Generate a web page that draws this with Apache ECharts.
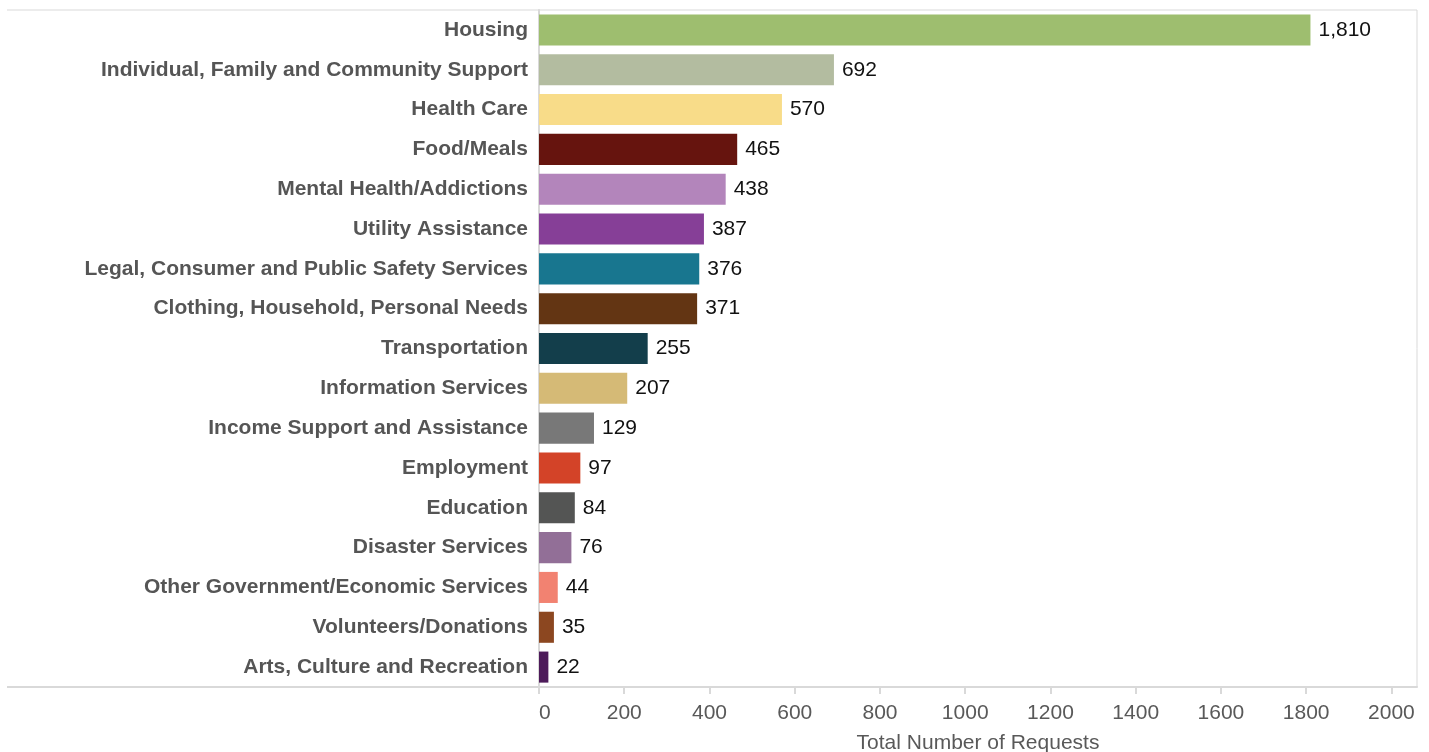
<!DOCTYPE html>
<html>
<head>
<meta charset="utf-8">
<script src="https://cdn.jsdelivr.net/npm/echarts@6/dist/echarts.min.js"></script>
<style>
  html, body { margin: 0; padding: 0; background: #ffffff; }
  #chart { width: 1429px; height: 752px; }
</style>
</head>
<body>
<div id="chart"></div>
<script>
// Request categories, top to bottom
const categories = [
  'Housing',
  'Individual, Family and Community Support',
  'Health Care',
  'Food/Meals',
  'Mental Health/Addictions',
  'Utility Assistance',
  'Legal, Consumer and Public Safety Services',
  'Clothing, Household, Personal Needs',
  'Transportation',
  'Information Services',
  'Income Support and Assistance',
  'Employment',
  'Education',
  'Disaster Services',
  'Other Government/Economic Services',
  'Volunteers/Donations',
  'Arts, Culture and Recreation'
];

// Total number of requests per category
const requests = [1810, 692, 570, 465, 438, 387, 376, 371, 255, 207, 129, 97, 84, 76, 44, 35, 22];

// One colour per category
const barColors = [
  '#9ebe6f', '#b3bca0', '#f8dc89', '#66140e', '#b385bb', '#863f97',
  '#18768f', '#633513', '#133e4b', '#d5ba76', '#787878', '#d34328',
  '#545554', '#926f97', '#f28271', '#8c4720', '#4d1b5a'
];

// Axis tick values
const xTicks = [0, 200, 400, 600, 800, 1000, 1200, 1400, 1600, 1800, 2000];

const chart = echarts.init(document.getElementById('chart'), null, { renderer: 'canvas' });

const font = 'Liberation Sans, Arial, sans-serif';
const gridLeft = 539, gridRight = 12, gridTop = 10, gridBottom = 65;
const lineColor = '#d9d9d9';

chart.setOption({
  animation: false,
  grid: {
    left: gridLeft, right: gridRight, top: gridTop, bottom: gridBottom,
    show: true, borderColor: lineColor, borderWidth: 1,
    containLabel: false, outerBoundsMode: 'none'
  },
  xAxis: {
    type: 'value',
    min: 0,
    max: 2060,
    name: 'Total Number of Requests',
    nameLocation: 'middle',
    nameGap: 46,
    nameTextStyle: { color: '#595959', fontSize: 21, fontFamily: font },
    axisLine: { show: true, lineStyle: { color: lineColor, width: 2 } },
    axisTick: { show: true, length: 7, customValues: xTicks, lineStyle: { color: lineColor, width: 2 } },
    axisLabel: {
      customValues: xTicks,
      color: '#595959', fontSize: 21, margin: 16,
      fontFamily: font,
      alignMinLabel: 'left',
      formatter: v => String(v)
    },
    splitLine: { show: false }
  },
  yAxis: {
    type: 'category',
    data: categories,
    inverse: true,
    axisLine: { show: true, lineStyle: { color: lineColor, width: 2 } },
    axisTick: { show: false },
    axisLabel: {
      color: '#555555', fontSize: 21, fontWeight: 'bold', margin: 11,
      fontFamily: font
    },
    splitLine: { show: false }
  },
  series: [{
    type: 'bar',
    data: requests.map((v, i) => ({ value: v, itemStyle: { color: barColors[i] } })),
    barCategoryGap: '22%',
    label: {
      show: true,
      position: 'right',
      distance: 8,
      color: '#111111',
      fontSize: 21,
      fontFamily: font,
      formatter: p => p.value.toLocaleString('en-US')
    }
  }],
  graphic: [
    // frame lines continuing under the category labels
    { type: 'rect', shape: { x: 7, y: gridTop - 0.5, width: gridLeft - 7, height: 1 }, style: { fill: lineColor } },
    { type: 'rect', shape: { x: 7, y: 752 - gridBottom - 1, width: gridLeft - 7, height: 2 }, style: { fill: lineColor } }
  ]
});
</script>
</body>
</html>
